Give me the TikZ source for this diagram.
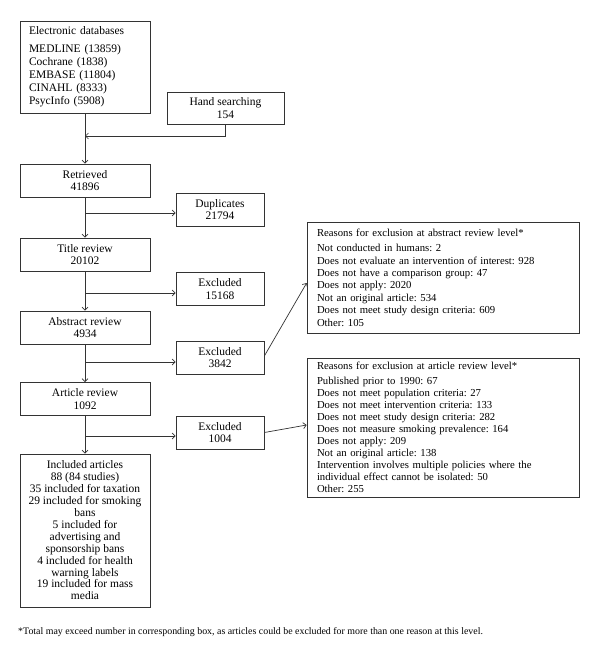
\documentclass[tikz,border=0pt]{standalone}
\usepackage{fontspec}
\setmainfont{Liberation Serif}
\usetikzlibrary{arrows.meta}
\begin{document}
\frenchspacing
\begin{tikzpicture}[x=1pt,y=-1pt,
  every node/.style={font=\fontsize{11.5}{12.4}\selectfont},
  box/.style={draw=black!80, line width=0.7pt, minimum width=130pt, minimum height=33pt, align=center, inner sep=2pt},
  sbox/.style={box, minimum width=88pt},
  rbox/.style={draw=black!80, line width=0.7pt, minimum width=272pt, text width=252pt, inner xsep=10pt, inner ysep=0pt, align=left},
  conn/.style={draw=black!80, line width=0.7pt, -{Straight Barb[length=3pt,width=6pt]}},
  plain/.style={draw=black!80, line width=0.7pt}
]
\useasboundingbox (0,0) rectangle (600,660);

\node[box, minimum height=92pt, text width=112pt, inner xsep=9pt, align=left,
  font=\fontsize{11.5}{13}\selectfont] (edb) at (85,67)
  {Electronic databases\\[5pt]MEDLINE (13859)\\Cochrane (1838)\\EMBASE (11804)\\CINAHL (8333)\\PsycInfo (5908)};
\node[box, minimum width=117pt, minimum height=32pt] (hand) at (225.5,108) {Hand searching\\154};
\node[box] (retr) at (85,180.5) {Retrieved\\41896};
\node[sbox] (dup) at (220,209.5) {Duplicates\\21794};
\node[box] (title) at (85,254.5) {Title review\\20102};
\node[sbox] (exa) at (220,289) {Excluded\\15168};
\node[box] (abs) at (85,327.5) {Abstract review\\4934};
\node[sbox] (exb) at (220,357.5) {Excluded\\3842};
\node[box] (art) at (85,399) {Article review\\1092};
\node[sbox] (exc) at (220,432.5) {Excluded\\1004};
\node[box, minimum height=153pt, font=\fontsize{11.5}{11.9}\selectfont] (incl) at (85,530.5)
  {Included articles\\88 (84 studies)\\35 included for taxation\\29 included for smoking\\bans\\5 included for\\advertising and\\sponsorship bans\\4 included for health\\warning labels\\19 included for mass\\media};

\node[rbox, minimum height=111pt, font=\fontsize{10.7}{12.4}\selectfont] (rabs) at (443,277.5)
  {Reasons for exclusion at abstract review level*\\[3pt]
   Not conducted in humans: 2\\
   Does not evaluate an intervention of interest: 928\\
   Does not have a comparison group: 47\\
   Does not apply: 2020\\
   Not an original article: 534\\
   Does not meet study design criteria: 609\\
   Other: 105};
\node[rbox, minimum height=139pt, font=\fontsize{10.7}{12}\selectfont] (rart) at (443,427.5)
  {Reasons for exclusion at article review level*\\[3pt]
   Published prior to 1990: 67\\
   Does not meet population criteria: 27\\
   Does not meet intervention criteria: 133\\
   Does not meet study design criteria: 282\\
   Does not measure smoking prevalence: 164\\
   Does not apply: 209\\
   Not an original article: 138\\
   Intervention involves multiple policies where the\\
   individual effect cannot be isolated: 50\\
   Other: 255};

\node[anchor=west, inner sep=0pt, font=\fontsize{9.9}{11}\selectfont] (foot) at (18,632)
  {*Total may exceed number in corresponding box, as articles could be excluded for more than one reason at this level.};

% connectors
\coordinate (hj) at (85,136);
\draw[conn] (edb.south) -- (retr.north);
\draw[conn] (hand.south) |- (hj);
\draw[conn] (retr.south) -- (title.north);
\draw[conn] (title.south) -- (abs.north);
\draw[conn] (abs.south) -- (art.north);
\draw[conn] (art.south) -- (incl.north);
\coordinate (ba) at (85,213);
\coordinate (bb) at (85,293);
\coordinate (bc) at (85,362);
\coordinate (bd) at (85,436);
\draw[conn] (ba) -- (ba -| dup.west);
\draw[conn] (bb) -- (bb -| exa.west);
\draw[conn] (bc) -- (bc -| exb.west);
\draw[conn] (bd) -- (bd -| exc.west);
\draw[conn] ([yshift=1.5pt]exb.east) -- ([yshift=-5.5pt]rabs.west);
\draw[conn] (exc.east) -- ([yshift=2.5pt]rart.west);
\end{tikzpicture}
\end{document}
